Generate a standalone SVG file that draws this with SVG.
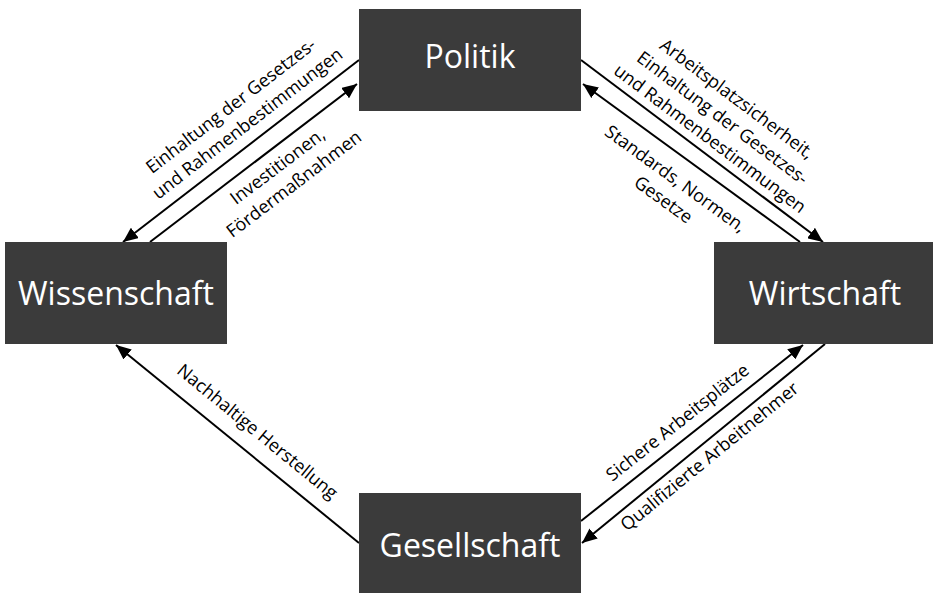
<svg xmlns="http://www.w3.org/2000/svg" width="933" height="593" viewBox="0 0 933 593">
  <style>
    .box { fill: #3b3b3b; }
    .nt { font-family: "Open Sans", "Liberation Sans", sans-serif; font-size: 32px; fill: #ffffff; text-anchor: middle; }
    .lbl { font-family: "Open Sans", "Liberation Sans", sans-serif; font-size: 18px; fill: #000000; text-anchor: middle; }
    .cn { stroke: #000000; stroke-width: 2; fill: none; marker-end: url(#ah); }
  </style>
  <defs>
    <marker id="ah" markerUnits="userSpaceOnUse" markerWidth="15" markerHeight="13" refX="15" refY="6.5" orient="auto">
      <path d="M0,0 L15,6.5 L0,13 z" fill="#000000"/>
    </marker>
  </defs>
  <rect width="933" height="593" fill="#ffffff"/>

  <g id="connectors">
    <line class="cn" x1="359" y1="60" x2="123" y2="242"/>
    <line class="cn" x1="150" y1="242" x2="357" y2="84"/>
    <line class="cn" x1="581" y1="60" x2="823" y2="242"/>
    <line class="cn" x1="800" y1="242" x2="583" y2="84"/>
    <line class="cn" x1="581" y1="521" x2="803" y2="345"/>
    <line class="cn" x1="825" y1="344" x2="582" y2="543"/>
    <line class="cn" x1="359" y1="543" x2="116" y2="345"/>
  </g>

  <g id="labels">
    <text class="lbl" transform="translate(240.5,114.5) rotate(-37.6)">
      <tspan x="0" y="-6.6">Einhaltung der Gesetzes-</tspan>
      <tspan x="0" y="17.4">und Rahmenbestimmungen</tspan>
    </text>
    <text class="lbl" transform="translate(287,175) rotate(-37.1)">
      <tspan x="0" y="-6.6">Investitionen,</tspan>
      <tspan x="0" y="17.4">Fördermaßnahmen</tspan>
    </text>
    <text class="lbl" transform="translate(724,120) rotate(36.9)">
      <tspan x="0" y="-18.6">Arbeitsplatzsicherheit,</tspan>
      <tspan x="0" y="5.4">Einhaltung der Gesetzes-</tspan>
      <tspan x="0" y="29.4">und Rahmenbestimmungen</tspan>
    </text>
    <text class="lbl" transform="translate(670,190.5) rotate(35.9)">
      <tspan x="0" y="-6.6">Standards, Normen,</tspan>
      <tspan x="0" y="17.4">Gesetze</tspan>
    </text>
    <text class="lbl" transform="translate(678,423) rotate(-38.4)" y="5.4">Sichere Arbeitsplätze</text>
    <text class="lbl" transform="translate(710,457) rotate(-39.2)" y="5.4">Qualifizierte Arbeitnehmer</text>
    <text class="lbl" transform="translate(257,432) rotate(39.3)" y="5.4">Nachhaltige Herstellung</text>
  </g>

  <g id="node-politik">
    <rect class="box" x="359" y="9" width="222" height="102"/>
    <text class="nt" x="470" y="68">Politik</text>
  </g>
  <g id="node-wissenschaft">
    <rect class="box" x="5" y="242" width="222" height="102"/>
    <text class="nt" x="116" y="305">Wissenschaft</text>
  </g>
  <g id="node-wirtschaft">
    <rect class="box" x="714" y="242" width="222" height="102"/>
    <text class="nt" x="825" y="305">Wirtschaft</text>
  </g>
  <g id="node-gesellschaft">
    <rect class="box" x="359" y="493" width="222" height="102"/>
    <text class="nt" x="470" y="557">Gesellschaft</text>
  </g>
</svg>
